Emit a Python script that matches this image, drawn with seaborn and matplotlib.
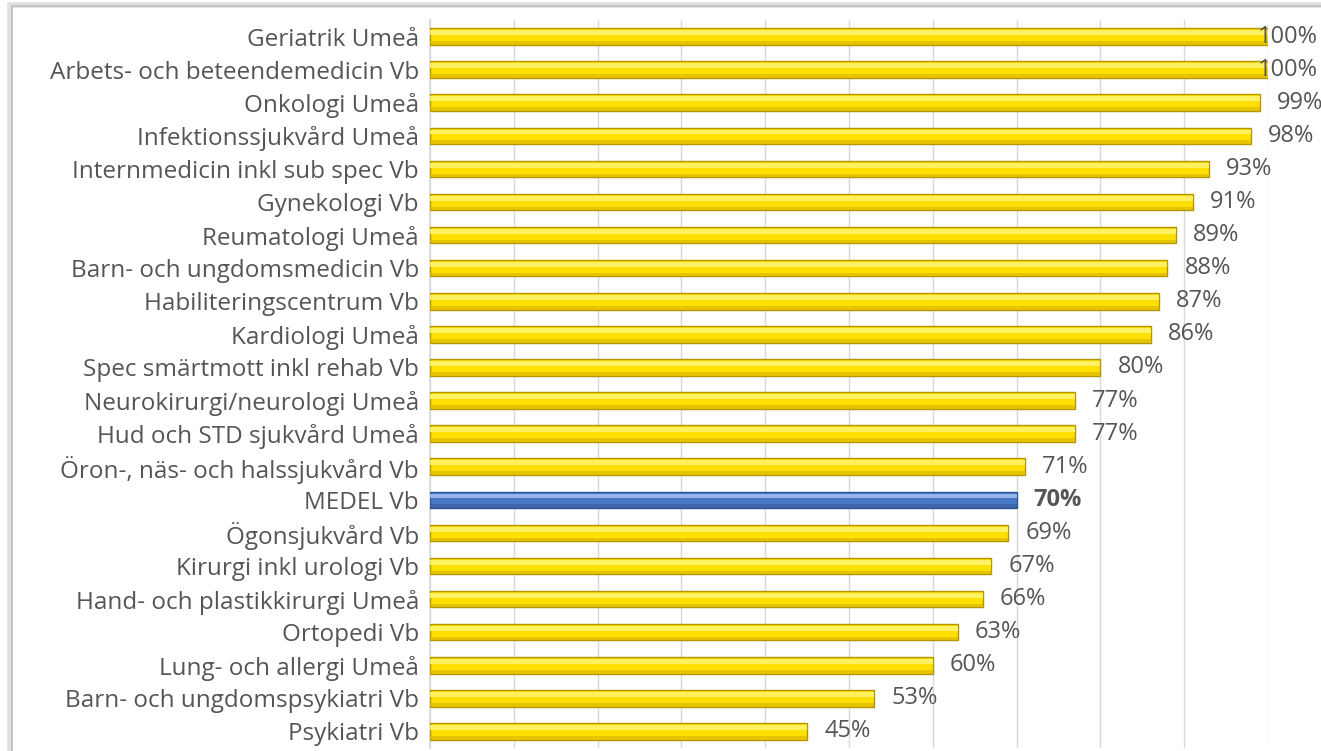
import numpy as np
import pandas as pd
import matplotlib.pyplot as plt
import seaborn as sns
from matplotlib.patches import Rectangle

units = ["Geriatrik Umeå", "Arbets- och beteendemedicin Vb", "Onkologi Umeå",
         "Infektionssjukvård Umeå", "Internmedicin inkl sub spec Vb", "Gynekologi Vb",
         "Reumatologi Umeå", "Barn- och ungdomsmedicin Vb", "Habiliteringscentrum Vb",
         "Kardiologi Umeå", "Spec smärtmott inkl rehab Vb", "Neurokirurgi/neurologi Umeå",
         "Hud och STD sjukvård Umeå", "Öron-, näs- och halssjukvård Vb", "MEDEL Vb",
         "Ögonsjukvård Vb", "Kirurgi inkl urologi Vb", "Hand- och plastikkirurgi Umeå",
         "Ortopedi Vb", "Lung- och allergi Umeå", "Barn- och ungdomspsykiatri Vb",
         "Psykiatri Vb"]
share = [100, 100, 99, 98, 93, 91, 89, 88, 87, 86, 80, 77, 77, 71, 70,
         69, 67, 66, 63, 60, 53, 45]
mean_label = "MEDEL Vb"

df = pd.DataFrame({"unit": units, "share": np.array(share) / 100})
df["kind"] = np.where(df["unit"] == mean_label, "mean", "unit")

sns.set_theme(style="white")
plt.rcParams['font.family'] = ['Open Sans', 'DejaVu Sans']

fig = plt.figure(figsize=(13.21, 7.51), dpi=100)
ax = fig.add_axes([430 / 1321, 3 / 751, (1268 - 430) / 1321, (751 - 3 - 20) / 751])

yellow, blue = "#FFE000", "#4A78C8"
sns.barplot(data=df, y="unit", x="share", hue="kind", dodge=False,
            palette={"unit": yellow, "mean": blue}, width=0.5, saturation=1,
            orient="h", legend=False, ax=ax, zorder=3)

# bevel look: darker edge + light stripe on upper part of each bar
for p in ax.patches:
    base = p.get_facecolor()
    is_blue = base[2] > base[0]
    p.set_edgecolor("#2F5597" if is_blue else "#B39600")
    p.set_linewidth(1.0)
    x0, y0 = p.get_x(), p.get_y()
    w, h = p.get_width(), p.get_height()
    ax.add_patch(Rectangle((x0, y0 + h * 0.12), w, h * 0.3,
                           facecolor="#A5C0F0" if is_blue else "#FFF574",
                           edgecolor="none", zorder=4, alpha=0.85))
    ax.add_patch(Rectangle((x0, y0 + h * 0.78), w, h * 0.22,
                           facecolor="#36599C" if is_blue else "#D6B200",
                           edgecolor="none", zorder=4, alpha=0.6))

ax.set_xlim(0, 1.0)
ax.set_ylim(len(units) - 0.5, -0.5)
ax.set_xticks(np.arange(0, 1.01, 0.1))
ax.xaxis.grid(True, color="#D9D9D9", linewidth=1.0, zorder=0)
ax.tick_params(axis="x", length=0, labelbottom=False)
ax.tick_params(axis="y", length=0, pad=8, labelsize=17.5, labelcolor="#555555")
ax.set_xlabel("")
ax.set_ylabel("")
for s in ["top", "right", "bottom"]:
    ax.spines[s].set_visible(False)
ax.spines["left"].set_color("#D9D9D9")

for i, (u, v) in enumerate(zip(units, share)):
    bold = u == mean_label
    if v >= 100:
        ax.annotate(f"{v}%", xy=(1.0, i), xytext=(50, 0), textcoords="offset pixels",
                    ha="right", va="center", fontsize=17, color="#555555",
                    zorder=6, annotation_clip=False)
    else:
        ax.annotate(f"{v}%", xy=(v / 100, i), xytext=(17, 0), textcoords="offset pixels",
                    ha="left", va="center", fontsize=17, color="#555555",
                    fontweight="bold" if bold else "normal", zorder=6)

# chart frame with shadow
fig.patches.append(Rectangle((10 / 1321, -0.1), 1.2, 1 - 5 / 751 + 0.1,
                             transform=fig.transFigure, facecolor="none",
                             edgecolor="#E0E0E0", linewidth=4, zorder=0))
fig.patches.append(Rectangle((12 / 1321, -0.1), 1.2, 1 - 6 / 751 + 0.1,
                             transform=fig.transFigure, facecolor="none",
                             edgecolor="#BFBFBF", linewidth=1.2, zorder=1))

fig.savefig("out.png", dpi=100)
